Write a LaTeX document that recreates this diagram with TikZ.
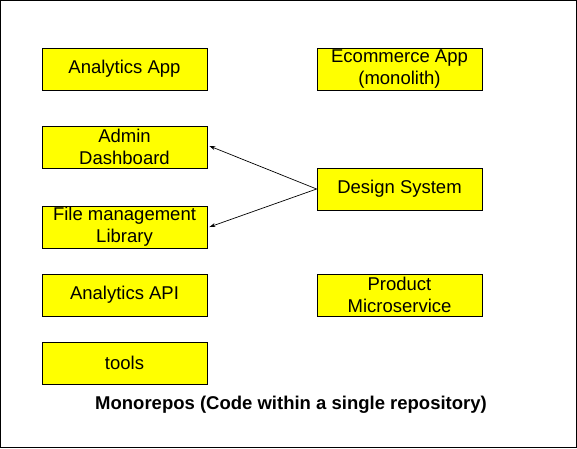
\documentclass[tikz,border=0pt]{standalone}
\usepackage{fontspec}
\setmainfont{Liberation Sans}
\usepackage{xcolor}
\usetikzlibrary{arrows.meta,positioning}
\definecolor{BoxFill}{HTML}{FFFF00}

\begin{document}
\begin{tikzpicture}[x=1pt,y=-1pt,
    appbox/.style={draw=black, fill=BoxFill, line width=0.8pt,
      minimum width=165pt, minimum height=42pt, inner sep=0pt,
      align=center, font=\fontsize{18.5}{22}\selectfont},
    uses/.style={-{Stealth[length=6pt,width=4pt]}, line width=0.7pt}]
  \useasboundingbox (0,0) rectangle (577,448);
  \draw[line width=1pt] (0.5,0.5) rectangle (576.5,447.5);
  % left column
  \node[appbox] (analyticsapp) at (124.5,69) {Analytics App};
  \node[appbox] (admin) at (124.5,147) {Admin\\Dashboard};
  \node[appbox] (filelib) at (124.5,227) {File management\\Library};
  \node[appbox] (analyticsapi) at (124.5,295) {Analytics API};
  \node[appbox] (tools) at (124.5,363) {tools};
  % right column
  \node[appbox] (ecommerce) at (399.5,69) {Ecommerce App\\(monolith)};
  \node[appbox] (design) at (399.5,189) {Design System};
  \node[appbox] (product) at (399.5,295) {Product\\Microservice};
  \node[font=\fontsize{18.5}{22}\selectfont\bfseries] (title) at (291,405)
    {Monorepos (Code within a single repository)};
  \draw[uses] (design.west) -- ([xshift=2pt,yshift=1pt]admin.east);
  \draw[uses] (design.west) -- ([xshift=2pt]filelib.east);
\end{tikzpicture}
\end{document}
